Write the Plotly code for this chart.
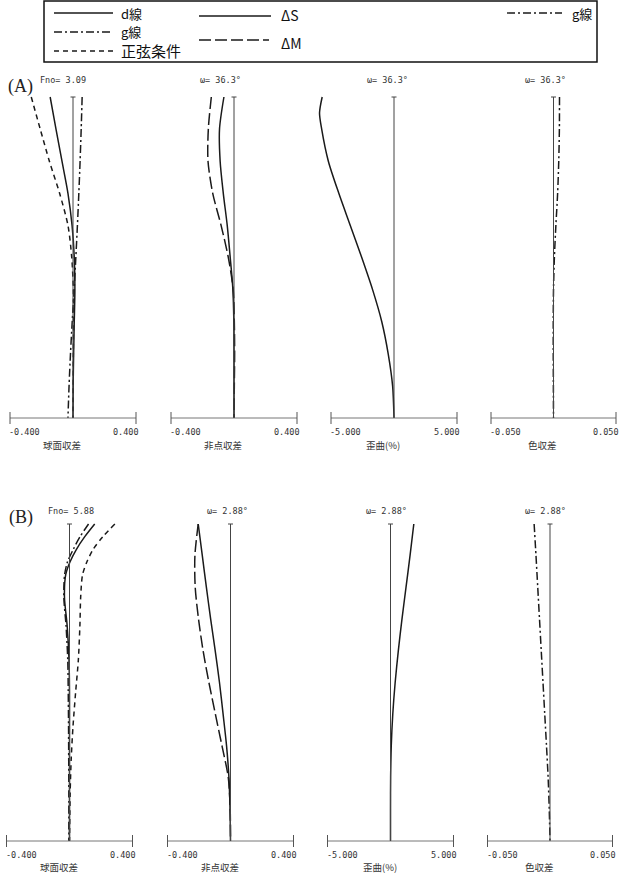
import plotly.graph_objects as go

W, H = 624, 875

# ---------------- data ----------------
limits = [0.4, 0.4, 5.0, 0.05]
tick_labels = [["-0.400", "0.400"], ["-0.400", "0.400"], ["-5.000", "5.000"], ["-0.050", "0.050"]]
axis_titles = ["球面収差", "非点収差", "歪曲(%)", "色収差"]
row_labels = ["(A)", "(B)"]
headers_A = ["Fno= 3.09", "ω= 36.3°", "ω= 36.3°", "ω= 36.3°"]
headers_B = ["Fno= 5.88", "ω= 2.88°", "ω= 2.88°", "ω= 2.88°"]
legend_labels = ["d線", "g線", "正弦条件", "ΔS", "ΔM", "g線"]

# (A) spherical aberration
h_sa_A = [1.0, 0.9, 0.8, 0.7, 0.6, 0.5, 0.4, 0.3, 0.2, 0.1, 0.0]
sa_A_d = [-0.145, -0.108, -0.070, -0.032, -0.006, 0.008, 0.012, 0.008, 0.004, 0.001, 0.000]
sa_A_g = [0.058, 0.052, 0.045, 0.037, 0.028, 0.018, 0.007, -0.005, -0.016, -0.025, -0.032]
sa_A_sine = [-0.265, -0.208, -0.150, -0.085, -0.032, -0.008, 0.002, 0.003, 0.002, 0.001, 0.000]
# (A) astigmatism
h_as_A = [1.0, 0.9, 0.8, 0.7, 0.6, 0.5, 0.4, 0.3, 0.2, 0.1, 0.0]
as_A_S = [-0.064, -0.092, -0.088, -0.068, -0.043, -0.024, -0.007, -0.001, 0.000, 0.000, 0.000]
as_A_M = [-0.144, -0.163, -0.165, -0.135, -0.082, -0.036, -0.005, 0.002, 0.004, 0.002, 0.000]
# (A) distortion
h_di_A = [1.0, 0.95, 0.9, 0.8, 0.7, 0.6, 0.5, 0.4, 0.3, 0.2, 0.1, 0.0]
di_A = [-5.70, -5.91, -5.74, -5.21, -4.38, -3.47, -2.56, -1.70, -0.97, -0.46, -0.11, 0.0]
# (A) lateral chromatic
h_ch_A = [1.0, 0.9, 0.8, 0.7, 0.6, 0.5, 0.4, 0.3, 0.2, 0.1, 0.0]
ch_A_g = [0.0048, 0.0047, 0.0042, 0.0033, 0.0019, 0.0007, 0.0000, -0.0002, -0.0002, -0.0001, 0.0]

# (B) spherical aberration
h_sa_B = [1.0, 0.96, 0.92, 0.88, 0.84, 0.77, 0.68, 0.57, 0.47, 0.36, 0.26, 0.15, 0.0]
sa_B_d = [0.160, 0.097, 0.044, 0.003, -0.024, -0.032, -0.015, -0.003, 0.000, 0.000, 0.000, 0.000, 0.000]
sa_B_g = [0.121, 0.067, 0.024, -0.013, -0.031, -0.036, -0.022, -0.011, -0.008, -0.006, -0.005, -0.004, -0.004]
sa_B_sine = [0.288, 0.212, 0.150, 0.110, 0.083, 0.071, 0.066, 0.056, 0.039, 0.022, 0.011, 0.004, 0.0]
# (B) astigmatism
h_as_B = [1.0, 0.9, 0.8, 0.7, 0.6, 0.5, 0.4, 0.3, 0.2, 0.1, 0.0]
as_B_S = [-0.205, -0.179, -0.153, -0.126, -0.097, -0.070, -0.047, -0.025, -0.010, -0.003, 0.0]
as_B_M = [-0.205, -0.226, -0.224, -0.203, -0.174, -0.137, -0.096, -0.054, -0.014, -0.002, 0.0]
# (B) distortion
h_di_B = [1.0, 0.9, 0.8, 0.7, 0.6, 0.5, 0.4, 0.3, 0.2, 0.1, 0.0]
di_B = [1.85, 1.55, 1.23, 0.91, 0.62, 0.37, 0.18, 0.06, 0.01, 0.0, 0.0]
# (B) lateral chromatic
h_ch_B = [1.0, 0.9, 0.8, 0.7, 0.6, 0.5, 0.4, 0.3, 0.2, 0.1, 0.0]
ch_B_g = [-0.0127, -0.0112, -0.0098, -0.0084, -0.0070, -0.0056, -0.0042, -0.0028, -0.0015, -0.0006, 0.0]

# ---------------- styles / layout constants ----------------
INK = "#1a1a1a"
AXC = "#555555"
SOLID = "solid"
DASHDOT = "8px,3px,2px,3px"
SHORTDASH = "5px,4px"
LONGDASH = "12px,4px"
MONO = "DejaVu Sans Mono"
CJK = "Noto Sans CJK JP"

col_ticks_px = [(10, 136), (171, 297), (331, 457), (491, 616)]
row_shift_px = [0.0, -3.5]
row_y_px = [(418, 97), (841, 524)]
Y_RANGE = (-0.08, 1.07)
header_px = [[(63, 80), (220, 80), (387, 80), (545, 80)],
             [(71, 511), (227, 511), (386, 511), (545, 511)]]
rowlabel_px = [(20, 86), (21, 517)]

panels = {
    (0, 0): [(sa_A_d, h_sa_A, SOLID), (sa_A_g, h_sa_A, DASHDOT), (sa_A_sine, h_sa_A, SHORTDASH)],
    (0, 1): [(as_A_S, h_as_A, SOLID), (as_A_M, h_as_A, LONGDASH)],
    (0, 2): [(di_A, h_di_A, SOLID)],
    (0, 3): [(ch_A_g, h_ch_A, DASHDOT)],
    (1, 0): [(sa_B_d, h_sa_B, SOLID), (sa_B_g, h_sa_B, DASHDOT), (sa_B_sine, h_sa_B, SHORTDASH)],
    (1, 1): [(as_B_S, h_as_B, SOLID), (as_B_M, h_as_B, LONGDASH)],
    (1, 2): [(di_B, h_di_B, SOLID)],
    (1, 3): [(ch_B_g, h_ch_B, DASHDOT)],
}

fig = go.Figure()
layout = dict(width=W, height=H, margin=dict(l=0, r=0, t=0, b=0),
              paper_bgcolor="white", plot_bgcolor="white", showlegend=False)
shapes, annotations = [], []

for r in range(2):
    for c in range(4):
        k = r * 4 + c + 1
        xa = "x" if k == 1 else f"x{k}"
        ya = "y" if k == 1 else f"y{k}"
        tl = col_ticks_px[c][0] + row_shift_px[r]
        tr = col_ticks_px[c][1] + row_shift_px[r]
        lim = limits[c]
        s = 2 * lim / (tr - tl)
        dl = max(0.5, tl - 18)
        dr = min(W - 0.5, tr + 8)
        xr = [-lim + (dl - tl) * s, -lim + (dr - tl) * s]
        y0, y1 = row_y_px[r]
        sy = y0 - y1
        pb = y0 - Y_RANGE[0] * sy
        pt = y0 - Y_RANGE[1] * sy
        layout["xaxis" + ("" if k == 1 else str(k))] = dict(
            domain=[dl / W, dr / W], range=xr, visible=False, anchor=ya, fixedrange=True)
        layout["yaxis" + ("" if k == 1 else str(k))] = dict(
            domain=[1 - pb / H, 1 - pt / H], range=list(Y_RANGE), visible=False, anchor=xa, fixedrange=True)

        # baseline, end ticks, centre axis with cap
        shapes.append(dict(type="line", xref=xa, yref=ya, x0=-lim, x1=lim, y0=0, y1=0,
                           line=dict(color="#777777", width=1)))
        for sgn in (-1, 1):
            shapes.append(dict(type="line", xref=xa, yref=ya, x0=sgn * lim, x1=sgn * lim,
                               y0=-6 / sy, y1=6 / sy, line=dict(color=AXC, width=1)))
        shapes.append(dict(type="line", xref=xa, yref=ya, x0=0, x1=0, y0=0, y1=1,
                           line=dict(color="#444444", width=1)))
        shapes.append(dict(type="line", xref=xa, yref=ya, x0=-2.5 * s, x1=2.5 * s, y0=1, y1=1,
                           line=dict(color="#444444", width=1)))

        for xs, hs, dash in panels[(r, c)]:
            fig.add_trace(go.Scatter(x=xs, y=hs, mode="lines", xaxis=xa, yaxis=ya,
                                     line=dict(color=INK, width=1.5, dash=dash, shape="spline",
                                               smoothing=0.8),
                                     hoverinfo="skip"))

        annotations.append(dict(xref=xa, yref=ya, x=-lim, y=0, text=tick_labels[c][0],
                                xanchor="left", yanchor="middle", xshift=-3, yshift=-14,
                                showarrow=False, font=dict(family=MONO, size=8.5, color="#333")))
        annotations.append(dict(xref=xa, yref=ya, x=lim, y=0, text=tick_labels[c][1],
                                xanchor="right", yanchor="middle", xshift=5, yshift=-14,
                                showarrow=False, font=dict(family=MONO, size=8.5, color="#333")))
        annotations.append(dict(xref=xa, yref=ya, x=0, y=0, text=axis_titles[c],
                                xanchor="center", yanchor="middle", xshift=-11,
                                yshift=-27 if r == 0 else -26,
                                showarrow=False, font=dict(family=CJK, size=9.5, color="#333")))
        hx, hy = header_px[r][c]
        annotations.append(dict(xref="paper", yref="paper", x=hx / W, y=1 - hy / H,
                                text=(headers_A if r == 0 else headers_B)[c],
                                xanchor="center", yanchor="middle", showarrow=False,
                                font=dict(family=MONO, size=8.5, color="#333")))
    lx, ly = rowlabel_px[r]
    annotations.append(dict(xref="paper", yref="paper", x=lx / W, y=1 - ly / H, text=row_labels[r],
                            xanchor="center", yanchor="middle", showarrow=False,
                            font=dict(family="Liberation Serif", size=18, color="#222")))

# ---------------- legend box ----------------
def P(px, py):
    return px / W, 1 - py / H

bx0, by0 = P(44, 1)
bx1, by1 = P(597, 62)
shapes.append(dict(type="rect", xref="paper", yref="paper", x0=bx0, x1=bx1, y0=by1, y1=by0,
                   line=dict(color="#111", width=1.5), fillcolor="rgba(0,0,0,0)"))
legend_items = [
    (54, 113, 13, SOLID, 119, 13, 13),
    (54, 113, 32, DASHDOT, 119, 31, 13),
    (54, 115, 51, SHORTDASH, 119, 51, 15),
    (199, 271, 16, SOLID, 279, 15, 14),
    (199, 269, 40, LONGDASH, 279, 43, 14),
    (507, 562, 13, DASHDOT, 570, 13, 13),
]
for (x0, x1, yl, dash, tx, ty, fs), lab in zip(legend_items, legend_labels):
    a0, b0 = P(x0, yl)
    a1, _ = P(x1, yl)
    shapes.append(dict(type="line", xref="paper", yref="paper", x0=a0, x1=a1, y0=b0, y1=b0,
                       line=dict(color=INK, width=1.4, dash=dash)))
    tx_, ty_ = P(tx, ty)
    annotations.append(dict(xref="paper", yref="paper", x=tx_, y=ty_, text=lab, xanchor="left",
                            yanchor="middle", showarrow=False,
                            font=dict(family=CJK, size=fs, color="#111")))

layout["shapes"] = shapes
layout["annotations"] = annotations
fig.update_layout(**layout)
fig.write_html("out.html", config={"displayModeBar": False, "staticPlot": True},
               post_script="document.body.style.margin='0';")
